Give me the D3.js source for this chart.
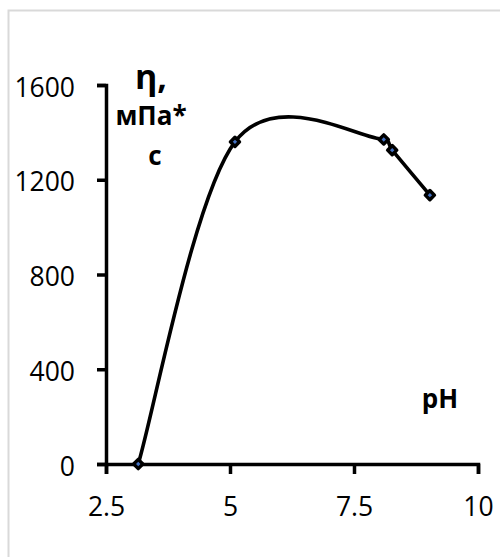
<!DOCTYPE html>
<html>
<head>
<meta charset="utf-8">
<script src="https://cdn.jsdelivr.net/npm/d3@7"></script>
<style>
  html, body { margin: 0; padding: 0; background: #fff; }
  svg { display: block; }
  text { font-family: "Open Sans", "Liberation Sans", sans-serif; fill: #000; }
</style>
</head>
<body>
<svg id="chart" width="500" height="557"></svg>
<script>
// Viscosity versus pH
const phValues = [3.15, 5.1, 8.1, 8.27, 9.03];
const viscosity = [0, 1360, 1370, 1325, 1135];
const xTicks = [2.5, 5, 7.5, 10];
const yTicks = [0, 400, 800, 1200, 1600];

const svg = d3.select("#chart");

// chart area frame
svg.append("rect")
  .attr("x", 8.5).attr("y", 10.5)
  .attr("width", 520).attr("height", 570)
  .attr("fill", "#fff")
  .attr("stroke", "#d9d9d9")
  .attr("stroke-width", 2);

const x = d3.scaleLinear().domain([2.5, 10]).range([106, 478]);
const y = d3.scaleLinear().domain([0, 1600]).range([464, 85]);

const fmtX = d => (d === 2.5 || d === 7.5) ? d.toFixed(1) : String(d);

const xAxis = svg.append("g")
  .attr("transform", `translate(0,${y(0)})`)
  .call(d3.axisBottom(x).tickValues(xTicks).tickSize(10).tickPadding(6).tickFormat(fmtX));
const yAxis = svg.append("g")
  .attr("transform", `translate(${x(2.5)},0)`)
  .call(d3.axisLeft(y).tickValues(yTicks).tickSize(9).tickPadding(22).tickFormat(d3.format("d")));

[xAxis, yAxis].forEach(g => {
  g.select(".domain").attr("stroke", "#000").attr("stroke-width", 3.5);
  g.selectAll(".tick line").attr("stroke", "#000").attr("stroke-width", 3.5);
  g.selectAll(".tick text")
    .style("font-family", "'Open Sans', sans-serif")
    .style("font-size", "26.5px")
    .attr("fill", "#000");
});
// place baselines of the tick labels
xAxis.selectAll(".tick text").attr("dy", null).attr("y", 51.7);
yAxis.selectAll(".tick text").attr("dy", null).attr("y", 11);

// Spreadsheet-style smoothed line: cubic Bezier segments whose tangents are
// (P[i+1] - P[i-1]) / 6, shortened on short segments so the curve never loops.
function curveSmoothScatter(context) {
  let pts = [];
  return {
    areaStart() {}, areaEnd() {},
    lineStart() { pts = []; },
    point(px, py) { pts.push([px, py]); },
    lineEnd() {
      const n = pts.length;
      if (!n) return;
      context.moveTo(pts[0][0], pts[0][1]);
      const tan = pts.map((p, i) => {
        const a = pts[Math.max(0, i - 1)], b = pts[Math.min(n - 1, i + 1)];
        return [(b[0] - a[0]) / 6, (b[1] - a[1]) / 6];
      });
      for (let i = 0; i < n - 1; i++) {
        const p = pts[i], q = pts[i + 1];
        const seg = Math.hypot(q[0] - p[0], q[1] - p[1]);
        const lim = seg / 2;
        const clamp = t => {
          const m = Math.hypot(t[0], t[1]);
          return m > lim && m > 0 ? [t[0] * lim / m, t[1] * lim / m] : t;
        };
        const t0 = clamp(tan[i]), t1 = clamp(tan[i + 1]);
        context.bezierCurveTo(p[0] + t0[0], p[1] + t0[1],
                              q[0] - t1[0], q[1] - t1[1], q[0], q[1]);
      }
    }
  };
}

// smooth curve through the measurements
const pts = phValues.map((p, i) => [p, viscosity[i]]);
const line = d3.line()
  .x(d => x(d[0])).y(d => y(d[1]))
  .curve(curveSmoothScatter);

svg.append("path")
  .datum(pts)
  .attr("d", line)
  .attr("fill", "none")
  .attr("stroke", "#000")
  .attr("stroke-width", 3.6)
  .attr("stroke-linejoin", "round");

// diamond markers
svg.append("g").selectAll("path")
  .data(pts)
  .join("path")
  .attr("d", d3.symbol().type(d3.symbolSquare).size(42))
  .attr("transform", d => `translate(${x(d[0])},${y(d[1])}) rotate(45)`)
  .attr("fill", "#4472c4")
  .attr("stroke", "#000")
  .attr("stroke-width", 3.4)
  .attr("stroke-linejoin", "round");

// axis titles
const yTitle = svg.append("g").attr("font-weight", "bold");
yTitle.append("text").attr("x", 151).attr("y", 89)
  .attr("text-anchor", "middle").style("font-size", "34px").text("η,");
yTitle.append("text").attr("x", 151).attr("y", 125)
  .attr("text-anchor", "middle").style("font-size", "26px").text("мПа*");
yTitle.append("text").attr("x", 155).attr("y", 165)
  .attr("text-anchor", "middle").style("font-size", "26px").text("с");

svg.append("text").attr("x", 440).attr("y", 408)
  .attr("text-anchor", "middle").attr("font-weight", "bold")
  .style("font-size", "26px").text("pH");
</script>
</body>
</html>
